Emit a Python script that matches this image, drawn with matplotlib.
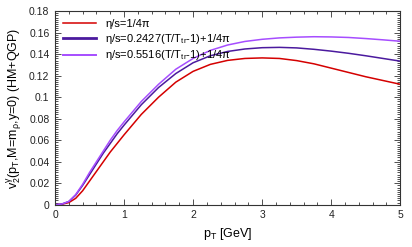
import numpy as np
import matplotlib
matplotlib.use("Agg")
import matplotlib.pyplot as plt
from matplotlib.ticker import MultipleLocator

plt.rcParams['font.family'] = ['Liberation Sans', 'DejaVu Sans']
plt.rcParams['mathtext.fontset'] = 'custom'
plt.rcParams['mathtext.rm'] = 'Liberation Sans'
plt.rcParams['mathtext.it'] = 'Liberation Sans'
plt.rcParams['font.size'] = 7.5

# pT grid and v2 values
pt = [0, 0.1, 0.2, 0.3, 0.4, 0.5, 0.6, 0.7, 0.8, 0.9, 1.0, 1.25, 1.5, 1.75,
      2.0, 2.25, 2.5, 2.75, 3.0, 3.25, 3.5, 3.75, 4.0, 4.25, 4.5, 4.75, 5.0]
v2_const = [0, 0.0005, 0.002, 0.006, 0.013, 0.022, 0.031, 0.040, 0.049,
            0.057, 0.065, 0.084, 0.100, 0.114, 0.124, 0.1305, 0.1342, 0.136,
            0.1365, 0.136, 0.134, 0.131, 0.127, 0.123, 0.119, 0.1155, 0.112]
v2_lin1 = [0, 0.0007, 0.003, 0.009, 0.018, 0.028, 0.038, 0.048, 0.057,
           0.066, 0.074, 0.093, 0.109, 0.122, 0.132, 0.1385, 0.1425, 0.1448,
           0.146, 0.1463, 0.1458, 0.1445, 0.1428, 0.1408, 0.1385, 0.136,
           0.1335]
v2_lin2 = [0, 0.0007, 0.003, 0.0095, 0.019, 0.030, 0.040, 0.050, 0.060,
           0.069, 0.077, 0.096, 0.112, 0.126, 0.136, 0.1435, 0.1485, 0.1518,
           0.1538, 0.1551, 0.1558, 0.1562, 0.156, 0.1555, 0.1545, 0.1533,
           0.152]

labels = [r'η/s=1/4π',
          r'η/s=0.2427(T/T$_{\rm tr}$-1)+1/4π',
          r'η/s=0.5516(T/T$_{\rm tr}$-1)+1/4π']
colors = ['#d40000', '#4b1a9e', '#a64dff']

fig = plt.figure(figsize=(4.12, 2.47), dpi=100)
ax = fig.add_axes([0.1335, 0.171, 0.838, 0.784])

ax.plot(pt, v2_const, color=colors[0], lw=1.1, label=labels[0])
ax.plot(pt, v2_lin1, color=colors[1], lw=1.1, label=labels[1])
ax.plot(pt, v2_lin2, color=colors[2], lw=1.1, label=labels[2])

ax.set_xlim(0, 5)
ax.set_ylim(0, 0.18)
ax.xaxis.set_major_locator(MultipleLocator(1))
ax.xaxis.set_minor_locator(MultipleLocator(0.2))
ax.yaxis.set_minor_locator(MultipleLocator(0.002))
ax.set_yticks(np.arange(0, 0.181, 0.02))
ax.set_yticklabels(['0', '0.02', '0.04', '0.06', '0.08', '0.1', '0.12',
                    '0.14', '0.16', '0.18'])
ax.tick_params(which='both', direction='in', top=True, right=True,
               colors='#333333', labelcolor='#222222', width=0.6,
               labelsize=7.5)
ax.tick_params(which='major', length=4, pad=4)
ax.tick_params(which='minor', length=2)
for s in ax.spines.values():
    s.set_color('#333333')
    s.set_linewidth(0.8)

ax.set_xlabel(r'p$_{\rm T}$ [GeV]', fontsize=9)
ax.set_ylabel(r'v$_2^{\gamma}$(p$_{\rm T}$,M=m$_{\rho}$,y=0) (HM+QGP)',
              fontsize=9, labelpad=4)

leg = ax.legend(loc='upper left', frameon=False, fontsize=8, handlelength=3.0,
                labelspacing=0.25, borderaxespad=0.3, handletextpad=0.8)
leg.get_lines()[1].set_linewidth(2.0)
leg.get_lines()[2].set_linewidth(1.4)

fig.savefig('out.png', dpi=100)
